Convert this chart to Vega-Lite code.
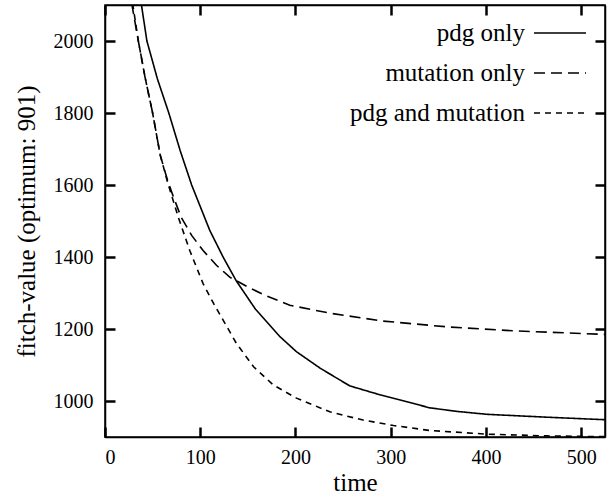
{
  "$schema": "https://vega.github.io/schema/vega-lite/v6.json",
  "width": 500,
  "height": 432,
  "autosize": {"type": "none"},
  "padding": {"left": 105, "top": 5, "right": 3, "bottom": 61},
  "background": "white",
  "config": {
    "font": "Liberation Serif",
    "view": {"stroke": "black", "strokeWidth": 1.5},
    "axis": {
      "domainColor": "black",
      "domainWidth": 1.5,
      "tickColor": "#000000",
      "tickWidth": 2.5,
      "tickOpacity": 1,
      "labelFontSize": 20,
      "labelColor": "black",
      "labelFont": "Liberation Serif",
      "titleFont": "Liberation Serif",
      "titleFontSize": 25,
      "titleFontWeight": "normal",
      "titleColor": "black",
      "grid": false,
      "format": "d"
    }
  },
  "data": {
    "values": [
      {"t": 38, "v": 2105, "s": "pdg only"},
      {"t": 44, "v": 2000, "s": "pdg only"},
      {"t": 55, "v": 1895, "s": "pdg only"},
      {"t": 67, "v": 1800, "s": "pdg only"},
      {"t": 79, "v": 1695, "s": "pdg only"},
      {"t": 91, "v": 1600, "s": "pdg only"},
      {"t": 110, "v": 1474, "s": "pdg only"},
      {"t": 124, "v": 1400, "s": "pdg only"},
      {"t": 138, "v": 1333, "s": "pdg only"},
      {"t": 158, "v": 1255, "s": "pdg only"},
      {"t": 184, "v": 1178, "s": "pdg only"},
      {"t": 201, "v": 1137, "s": "pdg only"},
      {"t": 226, "v": 1091, "s": "pdg only"},
      {"t": 257, "v": 1042, "s": "pdg only"},
      {"t": 289, "v": 1017, "s": "pdg only"},
      {"t": 310, "v": 1003, "s": "pdg only"},
      {"t": 341, "v": 981, "s": "pdg only"},
      {"t": 370, "v": 971, "s": "pdg only"},
      {"t": 401, "v": 963, "s": "pdg only"},
      {"t": 464, "v": 955, "s": "pdg only"},
      {"t": 525, "v": 948, "s": "pdg only"},
      {"t": 28, "v": 2105, "s": "mutation only"},
      {"t": 35, "v": 2000, "s": "mutation only"},
      {"t": 42, "v": 1900, "s": "mutation only"},
      {"t": 50, "v": 1800, "s": "mutation only"},
      {"t": 58, "v": 1683, "s": "mutation only"},
      {"t": 66, "v": 1610, "s": "mutation only"},
      {"t": 72, "v": 1566, "s": "mutation only"},
      {"t": 80, "v": 1510, "s": "mutation only"},
      {"t": 91, "v": 1460, "s": "mutation only"},
      {"t": 103, "v": 1418, "s": "mutation only"},
      {"t": 117, "v": 1377, "s": "mutation only"},
      {"t": 131, "v": 1344, "s": "mutation only"},
      {"t": 149, "v": 1318, "s": "mutation only"},
      {"t": 166, "v": 1296, "s": "mutation only"},
      {"t": 194, "v": 1266, "s": "mutation only"},
      {"t": 236, "v": 1244, "s": "mutation only"},
      {"t": 292, "v": 1222, "s": "mutation only"},
      {"t": 359, "v": 1206, "s": "mutation only"},
      {"t": 429, "v": 1195, "s": "mutation only"},
      {"t": 525, "v": 1185, "s": "mutation only"},
      {"t": 29, "v": 2105, "s": "pdg and mutation"},
      {"t": 35, "v": 2000, "s": "pdg and mutation"},
      {"t": 42, "v": 1900, "s": "pdg and mutation"},
      {"t": 50, "v": 1800, "s": "pdg and mutation"},
      {"t": 58, "v": 1683, "s": "pdg and mutation"},
      {"t": 66, "v": 1605, "s": "pdg and mutation"},
      {"t": 77, "v": 1510, "s": "pdg and mutation"},
      {"t": 89, "v": 1418, "s": "pdg and mutation"},
      {"t": 96, "v": 1372, "s": "pdg and mutation"},
      {"t": 103, "v": 1326, "s": "pdg and mutation"},
      {"t": 114, "v": 1271, "s": "pdg and mutation"},
      {"t": 138, "v": 1160, "s": "pdg and mutation"},
      {"t": 156, "v": 1095, "s": "pdg and mutation"},
      {"t": 177, "v": 1044, "s": "pdg and mutation"},
      {"t": 201, "v": 1008, "s": "pdg and mutation"},
      {"t": 236, "v": 970, "s": "pdg and mutation"},
      {"t": 271, "v": 947, "s": "pdg and mutation"},
      {"t": 303, "v": 932, "s": "pdg and mutation"},
      {"t": 341, "v": 918, "s": "pdg and mutation"},
      {"t": 401, "v": 908, "s": "pdg and mutation"},
      {"t": 464, "v": 903, "s": "pdg and mutation"},
      {"t": 525, "v": 901, "s": "pdg and mutation"}
    ]
  },
  "layer": [
    {
      "mark": {"type": "line", "clip": true, "color": "black", "strokeWidth": 1.6},
      "encoding": {
        "x": {
          "field": "t", "type": "quantitative",
          "scale": {"domain": [0, 525], "nice": false, "zero": false},
          "axis": {"title": "time", "orient": "bottom", "values": [0, 100, 200, 300, 400, 500], "labelPadding": 20, "titlePadding": 3, "tickSize": -10}
        },
        "y": {
          "field": "v", "type": "quantitative",
          "scale": {"domain": [900, 2100], "nice": false, "zero": false},
          "axis": {"title": "fitch-value (optimum:  901)", "orient": "left", "values": [1000, 1200, 1400, 1600, 1800, 2000], "labelPadding": 22, "titlePadding": 14, "tickSize": -10}
        },
        "strokeDash": {
          "field": "s", "type": "nominal",
          "scale": {"domain": ["pdg only", "mutation only", "pdg and mutation"], "range": [[1, 0], [11, 6], [6, 5]]},
          "legend": {
            "orient": "none", "legendX": 428, "legendY": 1, "title": null,
            "symbolType": "stroke", "symbolSize": 2704, "symbolStrokeWidth": 1.6,
            "symbolStrokeColor": "black", "labelAlign": "right", "labelOffset": -62,
            "labelFontSize": 25, "labelColor": "black", "labelFont": "Liberation Serif",
            "rowPadding": -19, "padding": 0, "labelLimit": 0
          }
        }
      }
    },
    {
      "mark": {"type": "line", "opacity": 0},
      "encoding": {
        "x": {"field": "t", "type": "quantitative", "axis": {"orient": "top", "labels": false, "title": null, "values": [0, 100, 200, 300, 400, 500], "tickSize": -10}},
        "y": {"field": "v", "type": "quantitative", "axis": {"orient": "right", "labels": false, "title": null, "values": [1000, 1200, 1400, 1600, 1800, 2000], "tickSize": -10}},
        "detail": {"field": "s"}
      }
    }
  ],
  "resolve": {"axis": {"x": "independent", "y": "independent"}}
}
